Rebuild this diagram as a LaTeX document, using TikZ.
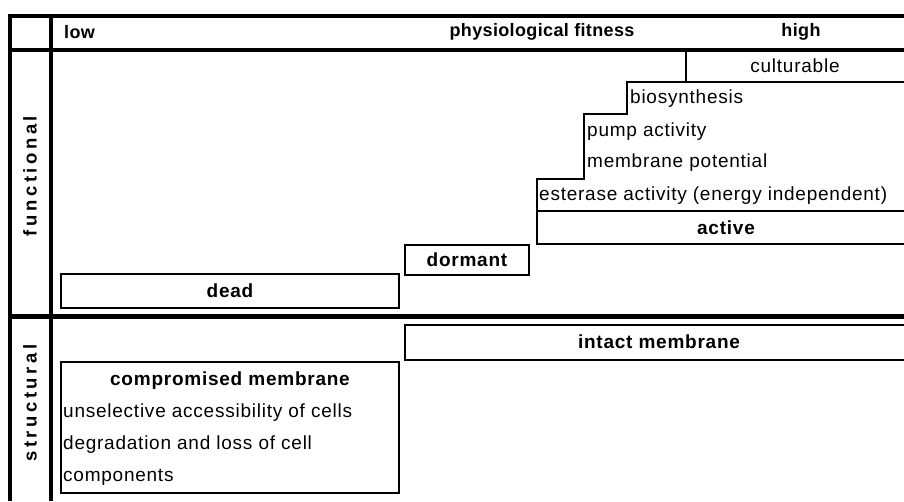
\documentclass[tikz,border=0pt]{standalone}
\usepackage{fontspec}
\setmainfont{Liberation Sans}
\newfontfamily\lsfont{Liberation Sans}[LetterSpace=4]
\newfontfamily\hdfont{Liberation Sans}[LetterSpace=2]
\newfontfamily\sidefont{Liberation Sans}[LetterSpace=19]
\begin{document}
\begin{tikzpicture}[x=1pt,y=-1pt,
  txt/.style={font=\lsfont\fontsize{19}{21}\selectfont, inner sep=0pt},
  btxt/.style={font=\lsfont\bfseries\fontsize{19}{21}\selectfont, inner sep=0pt},
  htxt/.style={font=\hdfont\bfseries\fontsize{18}{20}\selectfont, inner sep=0pt},
  stxt/.style={font=\sidefont\bfseries\fontsize{18.5}{20}\selectfont, inner sep=0pt, rotate=90},
  frame/.style={line width=4pt},
  boxline/.style={line width=2.5pt},
  stair/.style={line width=2.3pt, line join=miter},
]
\useasboundingbox (0,0) rectangle (904,501);
\clip (0,0) rectangle (904,501);
% frame
\draw[frame] (10,501) -- (10,16) -- (906,16);
\draw[frame] (8,50) -- (906,50);
\draw[line width=3.5pt] (51,16) -- (51,501);
\draw[line width=4.7pt] (8,316.5) -- (906,316.5);
% header
\node[htxt, anchor=west] (low) at (64,32) {low};
\node[htxt] (pf) at (542,32) {physiological fitness};
\node[htxt] (high) at (801,32) {high};
% side labels
\node[stxt] (func) at (30,176) {functional};
\node[stxt] (struct) at (30,403) {structural};
% staircase
\draw[stair] (686,50) -- (686,82);
\draw[stair] (906,82) -- (627,82) -- (627,114) -- (584,114) -- (584,179) -- (537,179) -- (537,244) -- (906,244);
\draw[stair] (537,211) -- (906,211);
\node[txt] (cult) at (795,66) {culturable};
\node[txt, anchor=west] (bio) at (630,99) {biosynthesis};
\node[txt, anchor=west] (pump) at (587,132) {pump activity};
\node[txt, anchor=west] (memb) at (587,163) {membrane potential};
\node[txt, anchor=west] (est) at (539,196) {esterase activity (energy independent)};
\node[btxt] (active) at (726,228) {active};
% dormant, dead
\node[btxt, draw, line width=2.5pt, minimum width=124pt, minimum height=30pt] (dormant) at (467,260) {dormant};
\node[btxt, draw, line width=2.5pt, minimum width=338pt, minimum height=34pt] (dead) at (230,291) {dead};
% structural
\draw[boxline] (906,325) -- (405,325) -- (405,360) -- (906,360);
\node[btxt] (intact) at (659,342) {intact membrane};
\draw[boxline] (61,362) rectangle (399,493);
\node[btxt] (comp) at (230,381) {compromised membrane};
\node[txt, anchor=west] (uns) at (63,413) {unselective accessibility of cells};
\node[txt, anchor=west] (deg) at (63,445) {degradation and loss of cell};
\node[txt, anchor=west] (compo) at (63,477) {components};
\end{tikzpicture}
\end{document}
